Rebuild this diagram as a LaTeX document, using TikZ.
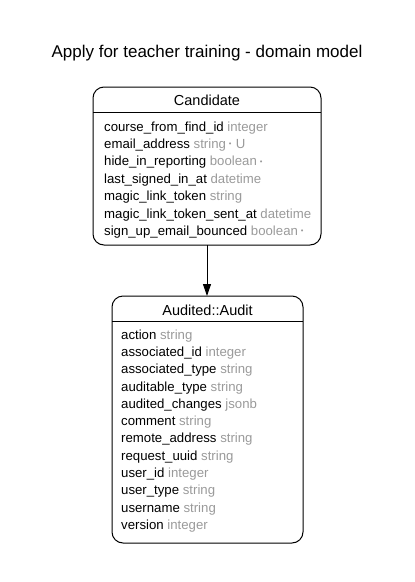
\documentclass[tikz,border=0pt]{standalone}
\usepackage{fontspec}
\setmainfont{Liberation Sans}
\newfontfamily\symfont{DejaVu Sans}
\usetikzlibrary{arrows.meta}
\definecolor{typegray}{HTML}{9A9A9A}
\tikzset{
  ent/.style={draw=black, line width=1pt, rounded corners=11pt},
  hdr/.style={anchor=base, inner sep=0pt, font=\fontsize{14.5}{16}\selectfont},
  row/.style={anchor=base west, inner sep=0pt, font=\fontsize{13.2}{15}\selectfont},
  ttl/.style={anchor=base, inner sep=0pt, font=\fontsize{17}{19}\selectfont},
  rel/.style={draw=black, line width=1pt, -{Triangle[length=12pt,width=8pt]}}
}
\newcommand{\ty}[1]{\textcolor{typegray}{#1}}
\newcommand{\nn}{\textcolor{typegray}{\,\raisebox{1.5pt}{\symfont\fontsize{7}{8}\selectfont •}}}
\begin{document}
\begin{tikzpicture}[x=1pt,y=-1pt]
\useasboundingbox (0,0) rectangle (415,582);
\node[ttl] (title) at (207,57) {Apply for teacher training - domain model};

% Candidate
\draw[ent] (93,87) rectangle (321,245);
\coordinate (candbot) at (207,245);
\draw[line width=1pt] (93,112) -- (321,112);
\node[hdr] (candh) at (207,105) {Candidate};
\node[row] (c1) at (104,131.0) {course\_from\_find\_id \ty{integer}};
\node[row] (c2) at (104,148.4) {email\_address \ty{string}\nn\ty{\ U}};
\node[row] (c3) at (104,165.8) {hide\_in\_reporting \ty{boolean}\nn};
\node[row] (c4) at (104,183.2) {last\_signed\_in\_at \ty{datetime}};
\node[row] (c5) at (104,200.6) {magic\_link\_token \ty{string}};
\node[row] (c6) at (104,218.0) {magic\_link\_token\_sent\_at \ty{datetime}};
\node[row] (c7) at (104,235.4) {sign\_up\_email\_bounced \ty{boolean}\nn};

% Audit
\draw[ent] (112,296) rectangle (303,543);
\coordinate (audtop) at (207,296);
\draw[line width=1pt] (112,321) -- (303,321);
\node[hdr] (audh) at (207.5,315) {Audited::Audit};
\node[row] (a1) at (121,339.3) {action \ty{string}};
\node[row] (a2) at (121,356.6) {associated\_id \ty{integer}};
\node[row] (a3) at (121,373.8) {associated\_type \ty{string}};
\node[row] (a4) at (121,391.1) {auditable\_type \ty{string}};
\node[row] (a5) at (121,408.4) {audited\_changes \ty{jsonb}};
\node[row] (a6) at (121,425.7) {comment \ty{string}};
\node[row] (a7) at (121,442.9) {remote\_address \ty{string}};
\node[row] (a8) at (121,460.2) {request\_uuid \ty{string}};
\node[row] (a9) at (121,477.5) {user\_id \ty{integer}};
\node[row] (a10) at (121,494.8) {user\_type \ty{string}};
\node[row] (a11) at (121,512.0) {username \ty{string}};
\node[row] (a12) at (121,529.3) {version \ty{integer}};

\draw[rel] (candbot) -- (audtop);
\end{tikzpicture}
\end{document}
